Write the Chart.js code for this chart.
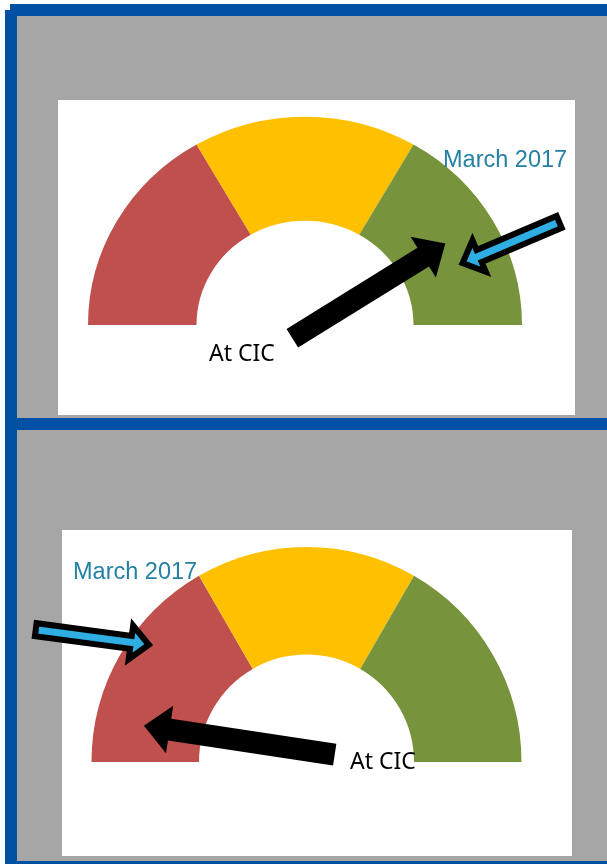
<!DOCTYPE html>
<html>
<head>
<meta charset="utf-8">
<script src="https://cdn.jsdelivr.net/npm/chart.js@4"></script>
<style>
  html, body { margin: 0; padding: 0; background: #fff; }
  body { width: 607px; height: 864px; position: relative; overflow: hidden; }
  .blue { position: absolute; background: #0051a3; }
  .gray { position: absolute; background: #a6a6a6; }
  .white { position: absolute; background: #fff; }
  canvas { position: absolute; }
</style>
</head>
<body>
<div class="blue" style="left:10px;top:4px;width:597px;height:12px"></div>
<div class="blue" style="left:5px;top:10px;width:12px;height:854px"></div>
<div class="gray" style="left:17px;top:16px;width:590px;height:402px"></div>
<div class="blue" style="left:5px;top:418px;width:602px;height:12px"></div>
<div class="gray" style="left:17px;top:430px;width:590px;height:431px"></div>
<div class="blue" style="left:5px;top:861px;width:602px;height:3px"></div>
<div class="white" style="left:58px;top:100px;width:517px;height:315px"></div>
<div class="white" style="left:62px;top:530px;width:510px;height:326px"></div>
<canvas id="topGauge" width="590" height="402" style="left:17px;top:16px"></canvas>
<canvas id="bottomGauge" width="590" height="431" style="left:17px;top:430px"></canvas>
<script>
// gauge bands (equal thirds) and the two readings on each gauge
const bands = ['Red', 'Amber', 'Green'];
const bandValues = [1, 1, 1];
const markerLabels = ['At CIC', 'March 2017'];
const topReadings = [2.48, 2.63];     // 0..3 along the gauge, left to right
const bottomReadings = [0.21, 0.62];

const bandColors = ['#c0504d', '#ffc000', '#77933c'];

// squash the gauge vertically a touch (the top picture is slightly flattened)
const squash = {
  id: 'squash',
  beforeDatasetsDraw(chart, args, opts) {
    const arc = chart.getDatasetMeta(0).data[0];
    const ctx = chart.ctx;
    ctx.save();
    ctx.translate(arc.x, arc.y);
    ctx.scale(1, opts.sy || 1);
    ctx.translate(-arc.x, -arc.y);
  },
  afterDatasetsDraw(chart) {
    chart.ctx.restore();
  }
};

function arrowPath(ctx, tx, ty, dirDeg, len, shaft, headW, headL) {
  const a = dirDeg * Math.PI / 180;
  const ux = Math.cos(a), uy = -Math.sin(a);
  const px = -uy, py = ux;
  const bx = tx - ux * headL, by = ty - uy * headL;
  const sx = tx - ux * len, sy = ty - uy * len;
  ctx.beginPath();
  ctx.moveTo(tx, ty);
  ctx.lineTo(bx + px * headW / 2, by + py * headW / 2);
  ctx.lineTo(bx + px * shaft / 2, by + py * shaft / 2);
  ctx.lineTo(sx + px * shaft / 2, sy + py * shaft / 2);
  ctx.lineTo(sx - px * shaft / 2, sy - py * shaft / 2);
  ctx.lineTo(bx - px * shaft / 2, by - py * shaft / 2);
  ctx.lineTo(bx - px * headW / 2, by - py * headW / 2);
  ctx.closePath();
}

// arrows pointing at the readings + their labels
const markers = {
  id: 'markers',
  afterDraw(chart, args, opts) {
    const ctx = chart.ctx;
    const arc = chart.getDatasetMeta(0).data[0];
    const cx = arc.x, cy = arc.y, R = arc.outerRadius;
    const sy = opts.sy || 1;
    const total = bandValues.reduce((s, v) => s + v, 0);
    const tipOf = (reading, rf) => {
      const t = Math.PI - reading / total * Math.PI;
      return [cx + rf * R * Math.cos(t), cy - rf * R * Math.sin(t) * sy];
    };
    ctx.save();
    // black arrow: "At CIC"
    const b = opts.black;
    let [tx, ty] = tipOf(opts.readings[0], b.rf);
    arrowPath(ctx, tx, ty, b.dir, b.len, 22, 48, 26);
    ctx.fillStyle = '#000';
    ctx.fill();
    // blue outlined arrow: "March 2017"
    const c = opts.blue;
    [tx, ty] = tipOf(opts.readings[1], c.rf);
    const a = c.dir * Math.PI / 180;
    tx -= Math.cos(a) * 4; ty += Math.sin(a) * 4;
    arrowPath(ctx, tx, ty, c.dir, c.len - 7, 13, 34, 18);
    ctx.fillStyle = '#2eaee2';
    ctx.fill();
    ctx.lineJoin = 'miter';
    ctx.lineWidth = 6;
    ctx.strokeStyle = '#000';
    ctx.stroke();
    // labels
    ctx.textAlign = 'left';
    ctx.textBaseline = 'alphabetic';
    ctx.fillStyle = '#000';
    ctx.font = '23px "Noto Sans"';
    ctx.fillText(markerLabels[0], cx + opts.cicText[0], cy + opts.cicText[1]);
    ctx.fillStyle = '#2580a6';
    ctx.font = '23.5px "Liberation Sans"';
    ctx.fillText(markerLabels[1], cx + opts.marchText[0], cy + opts.marchText[1]);
    ctx.restore();
  }
};

function makeGauge(id, cx, cy, r, sy, readings, marks) {
  const canvas = document.getElementById(id);
  const W = canvas.width, H = canvas.height;
  return new Chart(canvas, {
    type: 'doughnut',
    data: {
      labels: bands,
      datasets: [{
        data: bandValues,
        backgroundColor: bandColors,
        borderWidth: 0
      }]
    },
    options: {
      responsive: false,
      animation: false,
      rotation: -90,
      circumference: 180,
      cutout: '50%',
      layout: { padding: { left: cx - r, right: W - cx - r, top: cy - r, bottom: H - cy } },
      plugins: {
        legend: { display: false },
        tooltip: { enabled: false },
        squash: { sy: sy },
        markers: Object.assign({ sy: sy, readings: readings }, marks)
      }
    },
    plugins: [squash, markers]
  });
}

makeGauge('topGauge', 288, 309, 217, 0.96, topReadings, {
  black: { rf: 0.756, dir: 31.8, len: 180 },
  blue: { rf: 0.766, dir: 203.1, len: 112 },
  cicText: [-96, 36],
  marchText: [138, -158]
});

makeGauge('bottomGauge', 289.5, 332, 215, 1, bottomReadings, {
  black: { rf: 0.775, dir: 171.4, len: 193 },
  blue: { rf: 0.898, dir: -7.6, len: 121 },
  cicText: [43.5, 7],
  marchText: [-233.5, -183]
});
</script>
</body>
</html>
